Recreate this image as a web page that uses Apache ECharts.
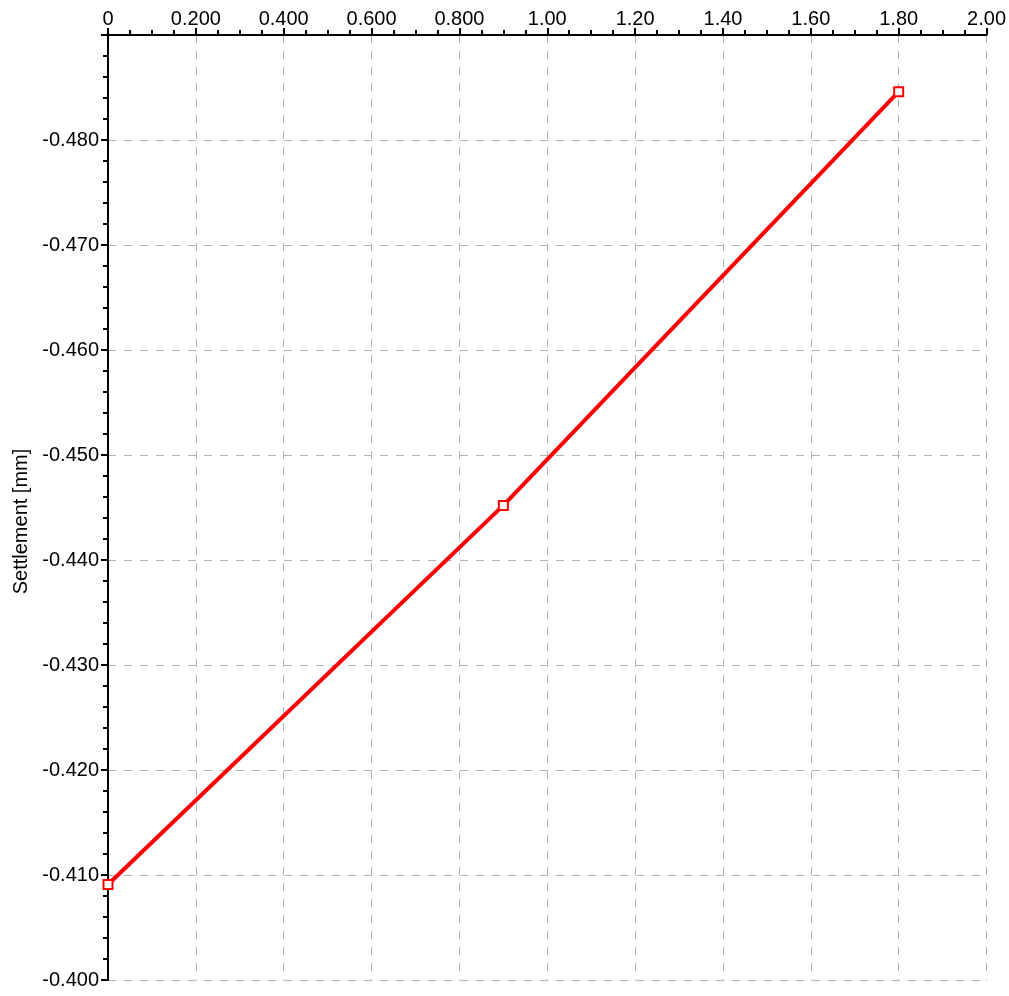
<!DOCTYPE html>
<html>
<head>
<meta charset="utf-8">
<script src="https://cdn.jsdelivr.net/npm/echarts@6/dist/echarts.min.js"></script>
<style>
  html, body { margin: 0; padding: 0; background: #fff; }
  #chart { width: 1009px; height: 996px; }
</style>
</head>
<body>
<div id="chart"></div>
<script>
// Load steps (x) and settlement readings (y, mm)
const loadSteps = [0, 0.9, 1.8];
const settlement = [-0.4091, -0.4452, -0.4846];
const yAxisName = 'Settlement [mm]';

const points = loadSteps.map((x, i) => [x, settlement[i]]);

const chart = echarts.init(document.getElementById('chart'));
const font = 'Liberation Sans, Arial, sans-serif';

chart.setOption({
  animation: false,
  backgroundColor: '#fff',
  grid: { left: 108, right: 22, top: 35, bottom: 16 },
  xAxis: {
    type: 'value',
    position: 'top',
    min: 0,
    max: 2,
    interval: 0.2,
    axisLine: { lineStyle: { color: '#000', width: 2 } },
    axisTick: { show: true, inside: false, length: 7, lineStyle: { color: '#000', width: 2 } },
    minorTick: { show: true, splitNumber: 4, length: 5, lineStyle: { color: '#000', width: 2 } },
    axisLabel: {
      color: '#000',
      fontSize: 20,
      fontFamily: font,
      margin: 6,
      formatter: v => v === 0 ? '0' : (v < 1 ? v.toFixed(3) : v.toFixed(2))
    },
    splitLine: { show: true, lineStyle: { color: '#b4b4b4', width: 1, type: [8, 8] } }
  },
  yAxis: {
    type: 'value',
    inverse: true,
    min: -0.49,
    max: -0.40,
    interval: 0.01,
    name: yAxisName,
    nameLocation: 'middle',
    nameGap: 77,
    nameTextStyle: { color: '#000', fontSize: 20, fontFamily: font, padding: [0, 28, 0, 0] },
    axisLine: { lineStyle: { color: '#000', width: 2 } },
    axisTick: { show: true, length: 7, lineStyle: { color: '#000', width: 2 } },
    minorTick: { show: true, splitNumber: 5, length: 5, lineStyle: { color: '#000', width: 2 } },
    axisLabel: {
      color: '#000',
      fontSize: 20,
      fontFamily: font,
      margin: 9,
      padding: [8, 0, 0, 0],
      showMinLabel: false,
      formatter: v => v.toFixed(3)
    },
    splitLine: { show: true, lineStyle: { color: '#b4b4b4', width: 1, type: [8, 8] } }
  },
  series: [{
    type: 'line',
    data: points,
    symbol: 'rect',
    symbolSize: 9,
    lineStyle: { color: '#ff0000', width: 4 },
    itemStyle: { color: '#fff', borderColor: '#ff0000', borderWidth: 2 },
    z: 5
  }]
});
</script>
</body>
</html>
